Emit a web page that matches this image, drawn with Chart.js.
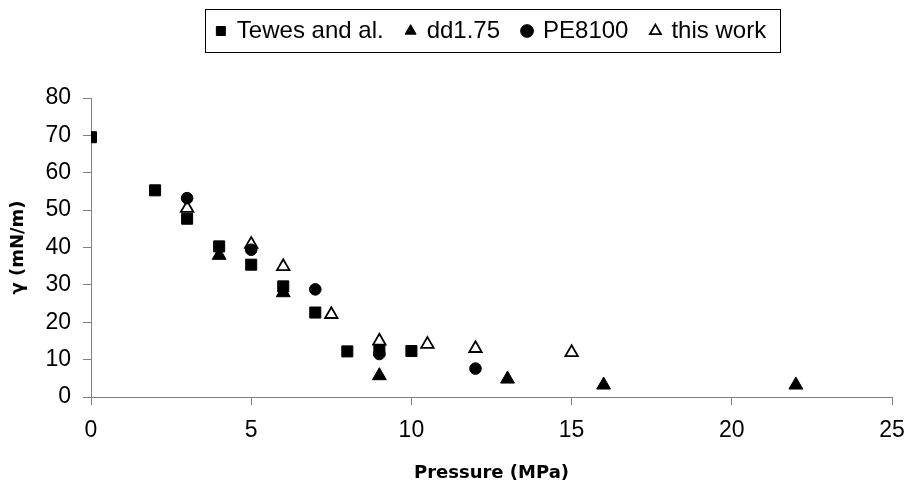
<!DOCTYPE html>
<html lang="en">
<head>
    <meta charset="UTF-8">
    <title>Interfacial tension vs pressure</title>
    <script src="https://cdn.jsdelivr.net/npm/chart.js"></script>
    <style>
        body {
            margin: 0;
            padding: 0;
            background: white;
        }
        canvas {
            display: block;
        }
    </style>
</head>
<body>
    <canvas id="chart" width="906" height="484"></canvas>

    <script>
        // values
        const tewesX = [0, 2, 3, 4, 5, 6, 7, 8, 9, 10];
        const tewesY = [69.5, 55.3, 47.7, 40.3, 35.4, 29.6, 22.6, 12.2, 12.5, 12.3];

        const ddX = [4, 6, 9, 13, 16, 22];
        const ddY = [37.9, 27.9, 5.7, 4.8, 3.2, 3.2];

        const peX = [3, 5, 7, 9, 12];
        const peY = [53.2, 39.4, 28.8, 11.5, 7.6];

        const workX = [3, 5, 6, 7.5, 9, 10.5, 12, 15];
        const workY = [50.5, 40.9, 34.9, 22.1, 15, 14.1, 13, 11.9];

        const xTicks = [0, 5, 10, 15, 20, 25];
        const yTicks = [0, 10, 20, 30, 40, 50, 60, 70, 80];

        const fontFamily = 'Arial, "Liberation Sans", sans-serif';
        const titleFamily = '"DejaVu Sans", Arial, sans-serif';
        const axisGray = '#808080';

        function toPoints(xs, ys) {
            return xs.map((x, i) => ({ x: x, y: ys[i] }));
        }

        // moves the legend to the top centre of the plot and draws its frame
        const legendFrame = {
            id: 'legendFrame',
            afterLayout(chart) {
                const lg = chart.legend;
                const area = chart.chartArea;
                const dx = (area.left + area.right) / 2 - (lg.left + lg.right) / 2;
                lg.left += dx;
                lg.right += dx;
                const pad = lg.options.labels.padding;
                const itemH = lg.options.labels.font.size;
                lg.top = 31 - pad - itemH / 2;
                lg.bottom = lg.top + lg.height;
            },
            afterDraw(chart) {
                const boxes = chart.legend.legendHitBoxes;
                if (!boxes || !boxes.length) return;
                const left = Math.min(...boxes.map(b => b.left));
                const right = Math.max(...boxes.map(b => b.left + b.width));
                const mid = boxes[0].top + boxes[0].height / 2;
                const ctx = chart.ctx;
                ctx.save();
                ctx.strokeStyle = '#000';
                ctx.lineWidth = 1;
                ctx.strokeRect(Math.round(left - 12) + 0.5, Math.round(mid - 22) + 0.5,
                    Math.round(right - left + 26), 43);
                ctx.restore();
            }
        };

        new Chart(document.getElementById('chart'), {
            type: 'scatter',
            data: {
                datasets: [
                    {
                        label: 'Tewes and al.',
                        data: toPoints(tewesX, tewesY),
                        pointStyle: 'rect',
                        pointRadius: 7.8,
                        backgroundColor: '#000',
                        borderColor: '#000',
                        borderWidth: 1
                    },
                    {
                        label: 'dd1.75',
                        data: toPoints(ddX, ddY),
                        pointStyle: 'triangle',
                        pointRadius: 8,
                        backgroundColor: '#000',
                        borderColor: '#000',
                        borderWidth: 1
                    },
                    {
                        label: 'PE8100',
                        data: toPoints(peX, peY),
                        pointStyle: 'circle',
                        pointRadius: 5.8,
                        backgroundColor: '#000',
                        borderColor: '#000',
                        borderWidth: 1
                    },
                    {
                        label: 'this work',
                        data: toPoints(workX, workY),
                        pointStyle: 'triangle',
                        pointRadius: 7.2,
                        backgroundColor: '#fff',
                        borderColor: '#000',
                        borderWidth: 1.8
                    }
                ]
            },
            options: {
                responsive: false,
                animation: false,
                layout: {
                    padding: { left: 0, right: 14, top: 41, bottom: 0 }
                },
                plugins: {
                    legend: {
                        position: 'top',
                        labels: {
                            usePointStyle: true,
                            boxWidth: 8,
                            boxHeight: 9,
                            padding: 23,
                            color: '#000',
                            font: { family: fontFamily, size: 24 }
                        }
                    },
                    tooltip: { enabled: false }
                },
                scales: {
                    x: {
                        type: 'linear',
                        min: 0,
                        max: 25,
                        afterBuildTicks: scale => {
                            scale.ticks = xTicks.map(v => ({ value: v }));
                        },
                        afterFit: scale => {
                            scale.height = 87;
                            scale.paddingLeft = 0;
                            scale.paddingRight = 0;
                        },
                        grid: {
                            drawOnChartArea: false,
                            tickLength: 8,
                            color: axisGray
                        },
                        border: { color: axisGray },
                        ticks: {
                            color: '#000',
                            padding: 12,
                            font: { family: fontFamily, size: 23 }
                        },
                        title: {
                            display: true,
                            text: 'Pressure (MPa)',
                            color: '#000',
                            padding: { top: 0, bottom: 0 },
                            font: { family: titleFamily, size: 18, weight: 'bold' }
                        }
                    },
                    y: {
                        min: 0,
                        max: 80,
                        afterBuildTicks: scale => {
                            scale.ticks = yTicks.map(v => ({ value: v }));
                        },
                        afterFit: scale => {
                            scale.width = 91;
                        },
                        grid: {
                            drawOnChartArea: false,
                            tickLength: 8,
                            color: axisGray
                        },
                        border: { color: axisGray },
                        ticks: {
                            color: '#000',
                            padding: 12,
                            font: { family: fontFamily, size: 23 }
                        },
                        title: {
                            display: true,
                            text: 'γ (mN/m)',
                            color: '#000',
                            padding: { top: 8, bottom: 0 },
                            font: { family: titleFamily, size: 18, weight: 'bold' }
                        }
                    }
                }
            },
            plugins: [legendFrame]
        });
    </script>
</body>
</html>
